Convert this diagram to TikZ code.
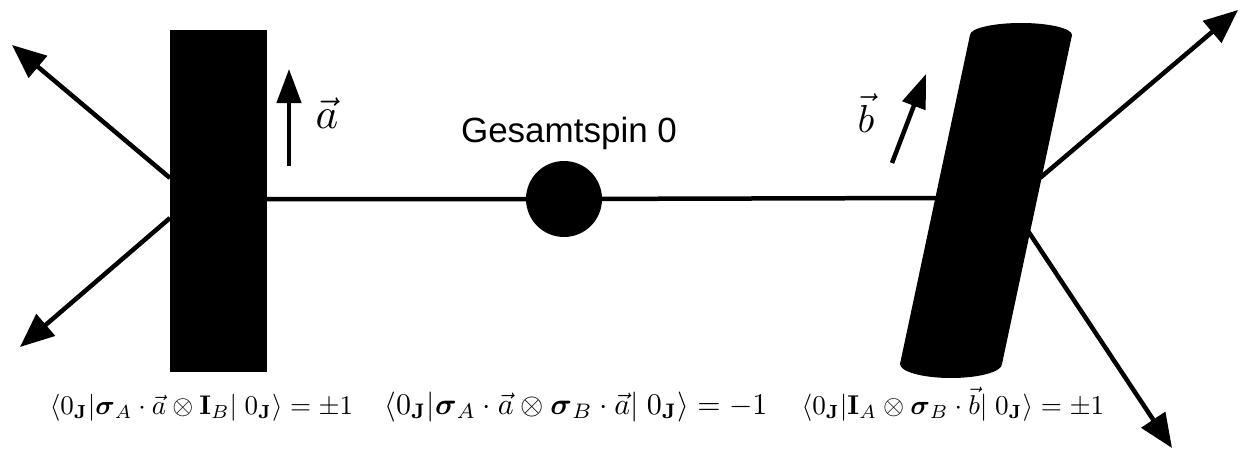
\documentclass[tikz,border=0pt]{standalone}
\usepackage{amsmath,amssymb}
\usepackage{graphicx}
\usepackage[no-math]{fontspec}
\newfontfamily\arialfont{Liberation Sans}
\usetikzlibrary{arrows.meta}
\tikzset{
  conn/.style={line width=4.5pt},
  bigarrow/.style={line width=4.5pt,-{Triangle[length=34pt,width=28pt]}},
  vecarrow/.style={line width=4.5pt,-{Triangle[length=34pt,width=24pt]}},
  formula/.style={anchor=base,inner sep=0pt},
}
\begin{document}
\begin{tikzpicture}[x=1pt,y=-1pt]
\useasboundingbox (0,0) rectangle (1243,452);
% left detector
\node[fill=black,inner sep=0pt,minimum width=97pt,minimum height=342pt] (A) at (218.5,201) {};
% right detector (tilted cylinder)
\fill (970,35) -- (1072,35) -- (1002,364) -- (900,364) -- cycle;
\fill (1021,35) ellipse [x radius=51pt,y radius=12pt];
\fill (951,364) ellipse [x radius=51pt,y radius=14pt];
\coordinate (Bl) at (938,198);
\coordinate (Bur) at (1040,178);
\coordinate (Blr) at (1028,231);
% source
\node[circle,fill=black,inner sep=0pt,minimum size=76pt] (S) at (564,199) {};
\node[font=\arialfont\fontsize{35}{42}\selectfont] (G) at (569,133) {Gesamtspin 0};
% beam
\draw[conn] (A.east |- S) -- (S) -- (Bl);
% outgoing arrows
\coordinate (Aul) at (170,178);
\coordinate (All) at (170,218);
\coordinate (T1) at (12,45);
\coordinate (T2) at (20,347);
\coordinate (T3) at (1238,10);
\coordinate (T4) at (1172,448);
\draw[bigarrow] (Aul) -- (T1);
\draw[bigarrow] (All) -- (T2);
\draw[bigarrow] (Bur) -- (T3);
\draw[bigarrow] (Blr) -- (T4);
% measurement direction vectors
\coordinate (a0) at (289,166);
\coordinate (a1) at (289,69);
\coordinate (b0) at (892,163);
\coordinate (b1) at (926,74);
\draw[vecarrow] (a0) -- (a1);
\draw[vecarrow] (b0) -- (b1);
\node[inner sep=0pt] (la) at (327,113) {\scalebox{4.3}{$\vec a$}};
\node[inner sep=0pt] (lb) at (866,113) {\scalebox{3.9}{$\vec b$}};
% formulas
\node[formula] (f1) at (201.5,414)
  {\scalebox{2.7}{$\langle 0_{\mathbf J}|\boldsymbol\sigma_A\cdot\vec a\otimes\mathbf I_B|\;0_{\mathbf J}\rangle=\pm1$}};
\node[formula] (f2) at (576,414)
  {\scalebox{3.0}{$\langle 0_{\mathbf J}|\boldsymbol\sigma_A\cdot\vec a\otimes\boldsymbol\sigma_B\cdot\vec a|\;0_{\mathbf J}\rangle=-1$}};
\node[formula] (f3) at (953,414)
  {\scalebox{2.72}{$\langle 0_{\mathbf J}|\mathbf I_A\otimes\boldsymbol\sigma_B\cdot\vec b|\;0_{\mathbf J}\rangle=\pm1$}};
\end{tikzpicture}
\end{document}
